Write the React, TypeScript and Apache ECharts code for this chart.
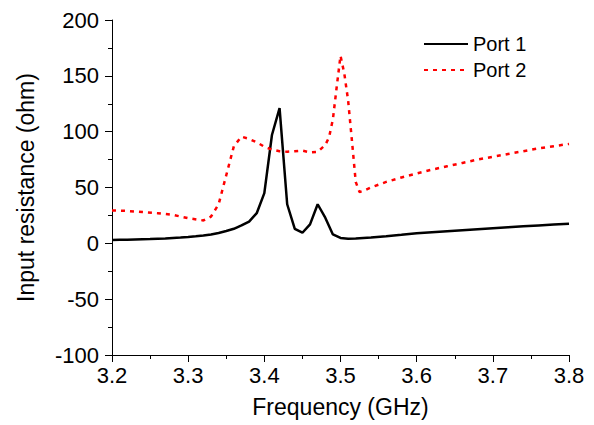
import React, { useEffect, useRef } from "react";
import * as echarts from "echarts";

const freq1 = [3.2, 3.21, 3.22, 3.23, 3.24, 3.25, 3.26, 3.27, 3.28, 3.29, 3.3, 3.31, 3.32, 3.33, 3.34, 3.35, 3.36, 3.37, 3.38, 3.39, 3.4, 3.41, 3.42, 3.43, 3.44, 3.45, 3.46, 3.47, 3.48, 3.49, 3.5, 3.51, 3.52, 3.54, 3.56, 3.58, 3.6, 3.62, 3.64, 3.66, 3.68, 3.7, 3.72, 3.74, 3.76, 3.78, 3.8];
const port1 = [3.0, 3.1, 3.2, 3.4, 3.6, 3.8, 4.1, 4.4, 4.8, 5.2, 5.7, 6.3, 7.0, 8.0, 9.3, 11.0, 13.0, 16.0, 19.5, 27, 45, 97, 121, 35, 13, 9.5, 17, 35, 23, 8, 4.8, 4.2, 4.3, 5.2, 6.3, 7.6, 9.0, 10.0, 10.9, 11.8, 12.7, 13.6, 14.4, 15.2, 16.0, 16.8, 17.6];

const freq2 = [3.2, 3.22, 3.24, 3.26, 3.28, 3.3, 3.32, 3.33, 3.34, 3.35, 3.36, 3.37, 3.38, 3.39, 3.4, 3.41, 3.42, 3.43, 3.44, 3.45, 3.46, 3.47, 3.48, 3.485, 3.49, 3.495, 3.5, 3.505, 3.51, 3.515, 3.52, 3.525, 3.53, 3.54, 3.56, 3.58, 3.6, 3.62, 3.64, 3.66, 3.68, 3.7, 3.72, 3.74, 3.76, 3.78, 3.8];
const port2 = [29.5, 29, 28, 27, 25.5, 22.5, 20.5, 24, 35, 61, 87, 95.5, 93.5, 90.5, 86.5, 84, 82.5, 82, 82.5, 83, 81.5, 82, 88, 95, 111, 140, 168, 152, 128, 92, 55, 46, 47, 50, 55, 59, 62.5, 66, 69, 72, 75, 77.5, 80, 82.5, 85, 87, 89];

const seriesNames = ["Port 1", "Port 2"];
const xTitle = "Frequency (GHz)";
const yTitle = "Input resistance (ohm)";

const FONT = "'Liberation Sans', Arial, Helvetica, sans-serif";

export default function App() {
  const ref = useRef<HTMLDivElement>(null);
  useEffect(() => {
    document.body.style.margin = "0";
    if (!ref.current) return;
    const chart = echarts.init(ref.current, undefined, { renderer: "svg" });
    chart.setOption({
      animation: false,
      backgroundColor: "#fff",
      textStyle: { fontFamily: FONT, color: "#000" },
      grid: { left: 112, right: 25, top: 20, bottom: 70 },
      legend: {
        orient: "vertical",
        left: 418,
        top: 29,
        itemWidth: 44,
        itemHeight: 20,
        itemGap: 6,
        itemStyle: { opacity: 0 },
        textStyle: { fontSize: 20, color: "#000", fontFamily: FONT },
        data: seriesNames,
      },
      xAxis: {
        type: "value",
        min: 3.2,
        max: 3.8,
        interval: 0.1,
        name: xTitle,
        nameLocation: "middle",
        nameGap: 40,
        nameTextStyle: { fontSize: 23, color: "#000", fontFamily: FONT },
        axisLine: { show: true, onZero: false, lineStyle: { color: "#000", width: 1 } },
        axisTick: { show: true, inside: false, length: 7, lineStyle: { color: "#000" } },
        minorTick: { show: true, splitNumber: 2, length: 4, lineStyle: { color: "#000" } },
        splitLine: { show: false },
        axisLabel: {
          fontSize: 22,
          color: "#000",
          margin: 9,
          fontFamily: FONT,
          formatter: (v: number) => v.toFixed(1),
        },
      },
      yAxis: {
        type: "value",
        min: -100,
        max: 200,
        interval: 50,
        name: yTitle,
        nameLocation: "middle",
        nameGap: 75,
        nameTextStyle: { fontSize: 23, color: "#000", fontFamily: FONT },
        axisLine: { show: true, onZero: false, lineStyle: { color: "#000", width: 1 } },
        axisTick: { show: true, inside: false, length: 7, lineStyle: { color: "#000" } },
        minorTick: { show: true, splitNumber: 2, length: 4, lineStyle: { color: "#000" } },
        splitLine: { show: false },
        axisLabel: { fontSize: 22, color: "#000", margin: 13, fontFamily: FONT },
      },
      series: [
        {
          name: seriesNames[0],
          type: "line",
          data: freq1.map((f, i) => [f, port1[i]]),
          symbol: "none",
          lineStyle: { color: "#000", width: 2.5 },
          itemStyle: { color: "#000" },
        },
        {
          name: seriesNames[1],
          type: "line",
          data: freq2.map((f, i) => [f, port2[i]]),
          symbol: "none",
          lineStyle: { color: "#ff0000", width: 2.5, type: [4, 5] },
          itemStyle: { color: "#ff0000" },
        },
      ],
    });
    return () => chart.dispose();
  }, []);
  return <div ref={ref} style={{ width: 594, height: 425 }} />;
}
